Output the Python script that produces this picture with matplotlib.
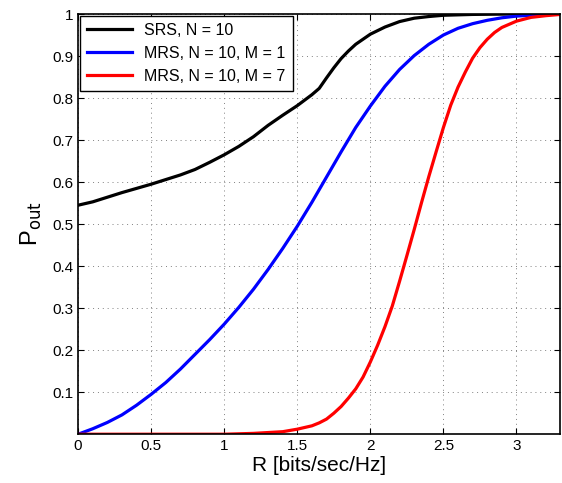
import matplotlib
matplotlib.use("Agg")
import matplotlib.pyplot as plt

plt.rcParams['font.family'] = ['Liberation Sans', 'DejaVu Sans']

# SRS, N = 10
r_srs = [0, 0.1, 0.2, 0.3, 0.4, 0.5, 0.6, 0.7, 0.8, 0.9, 1.0, 1.1, 1.2, 1.3, 1.4,
         1.5, 1.6, 1.65, 1.7, 1.75, 1.8, 1.85, 1.9, 2.0, 2.1, 2.2, 2.3, 2.4, 2.5,
         2.7, 3.0, 3.3]
p_srs = [0.545, 0.553, 0.564, 0.575, 0.585, 0.595, 0.606, 0.617, 0.63, 0.647, 0.665,
         0.685, 0.708, 0.735, 0.759, 0.782, 0.808, 0.823, 0.848, 0.872, 0.894, 0.912,
         0.928, 0.952, 0.969, 0.982, 0.99, 0.994, 0.997, 0.999, 1.0, 1.0]

# MRS, N = 10, M = 1
r_m1 = [0, 0.1, 0.2, 0.3, 0.4, 0.5, 0.6, 0.7, 0.8, 0.9, 1.0, 1.1, 1.2, 1.3, 1.4, 1.5,
        1.6, 1.7, 1.8, 1.9, 2.0, 2.1, 2.2, 2.3, 2.4, 2.5, 2.6, 2.7, 2.8, 2.9, 3.0,
        3.1, 3.2, 3.3]
p_m1 = [0.0, 0.013, 0.028, 0.046, 0.069, 0.095, 0.123, 0.155, 0.19, 0.225, 0.262,
        0.302, 0.345, 0.392, 0.442, 0.495, 0.552, 0.612, 0.672, 0.73, 0.781, 0.828,
        0.868, 0.901, 0.928, 0.95, 0.966, 0.977, 0.985, 0.991, 0.995, 0.997, 0.999, 1.0]

# MRS, N = 10, M = 7
r_m7 = [0, 1.0, 1.2, 1.4, 1.5, 1.6, 1.65, 1.7, 1.75, 1.8, 1.85, 1.9, 1.95, 2.0, 2.05,
        2.1, 2.15, 2.2, 2.25, 2.3, 2.35, 2.4, 2.45, 2.5, 2.55, 2.6, 2.65, 2.7, 2.75,
        2.8, 2.85, 2.9, 3.0, 3.1, 3.2, 3.3]
p_m7 = [0.0, 0.0, 0.002, 0.006, 0.012, 0.02, 0.027, 0.036, 0.05, 0.066, 0.086, 0.108,
        0.136, 0.172, 0.212, 0.256, 0.305, 0.364, 0.425, 0.487, 0.551, 0.613, 0.672,
        0.73, 0.783, 0.826, 0.862, 0.895, 0.92, 0.94, 0.956, 0.968, 0.983, 0.992,
        0.996, 0.999]

xticks = [0, 0.5, 1, 1.5, 2, 2.5, 3]
xlabels = ['0', '0.5', '1', '1.5', '2', '2.5', '3']
yticks = [0.1, 0.2, 0.3, 0.4, 0.5, 0.6, 0.7, 0.8, 0.9, 1.0]
ylabels = ['0.1', '0.2', '0.3', '0.4', '0.5', '0.6', '0.7', '0.8', '0.9', '1']

fig = plt.figure(figsize=(5.62, 4.83), dpi=100)
ax = fig.add_axes([0.139, 0.101, 0.858, 0.870])

ax.plot(r_srs, p_srs, color='black', lw=2.3, label='SRS, N = 10')
ax.plot(r_m1, p_m1, color='blue', lw=2.3, label='MRS, N = 10, M = 1')
ax.plot(r_m7, p_m7, color='red', lw=2.3, label='MRS, N = 10, M = 7')

ax.set_xlim(0, 3.3)
ax.set_ylim(0, 1)
ax.set_xticks(xticks)
ax.set_xticklabels(xlabels)
ax.set_yticks(yticks)
ax.set_yticklabels(ylabels)
ax.tick_params(direction='in', top=True, right=True, labelsize=11, length=4)
ax.grid(True, linestyle=(0, (1, 4)), color='gray', linewidth=0.7)
for s in ax.spines.values():
    s.set_linewidth(1.2)

ax.set_xlabel('R [bits/sec/Hz]', fontsize=15, labelpad=2)
ax.set_ylabel(r'P$_{\mathrm{out}}$', fontsize=17, labelpad=6)

leg = ax.legend(loc='upper left', fontsize=11.5, fancybox=False, framealpha=1,
                edgecolor='black', borderaxespad=0.1, handlelength=2.8,
                labelspacing=0.5, borderpad=0.45)
leg.get_frame().set_linewidth(1)

fig.savefig('out.png', dpi=100)
